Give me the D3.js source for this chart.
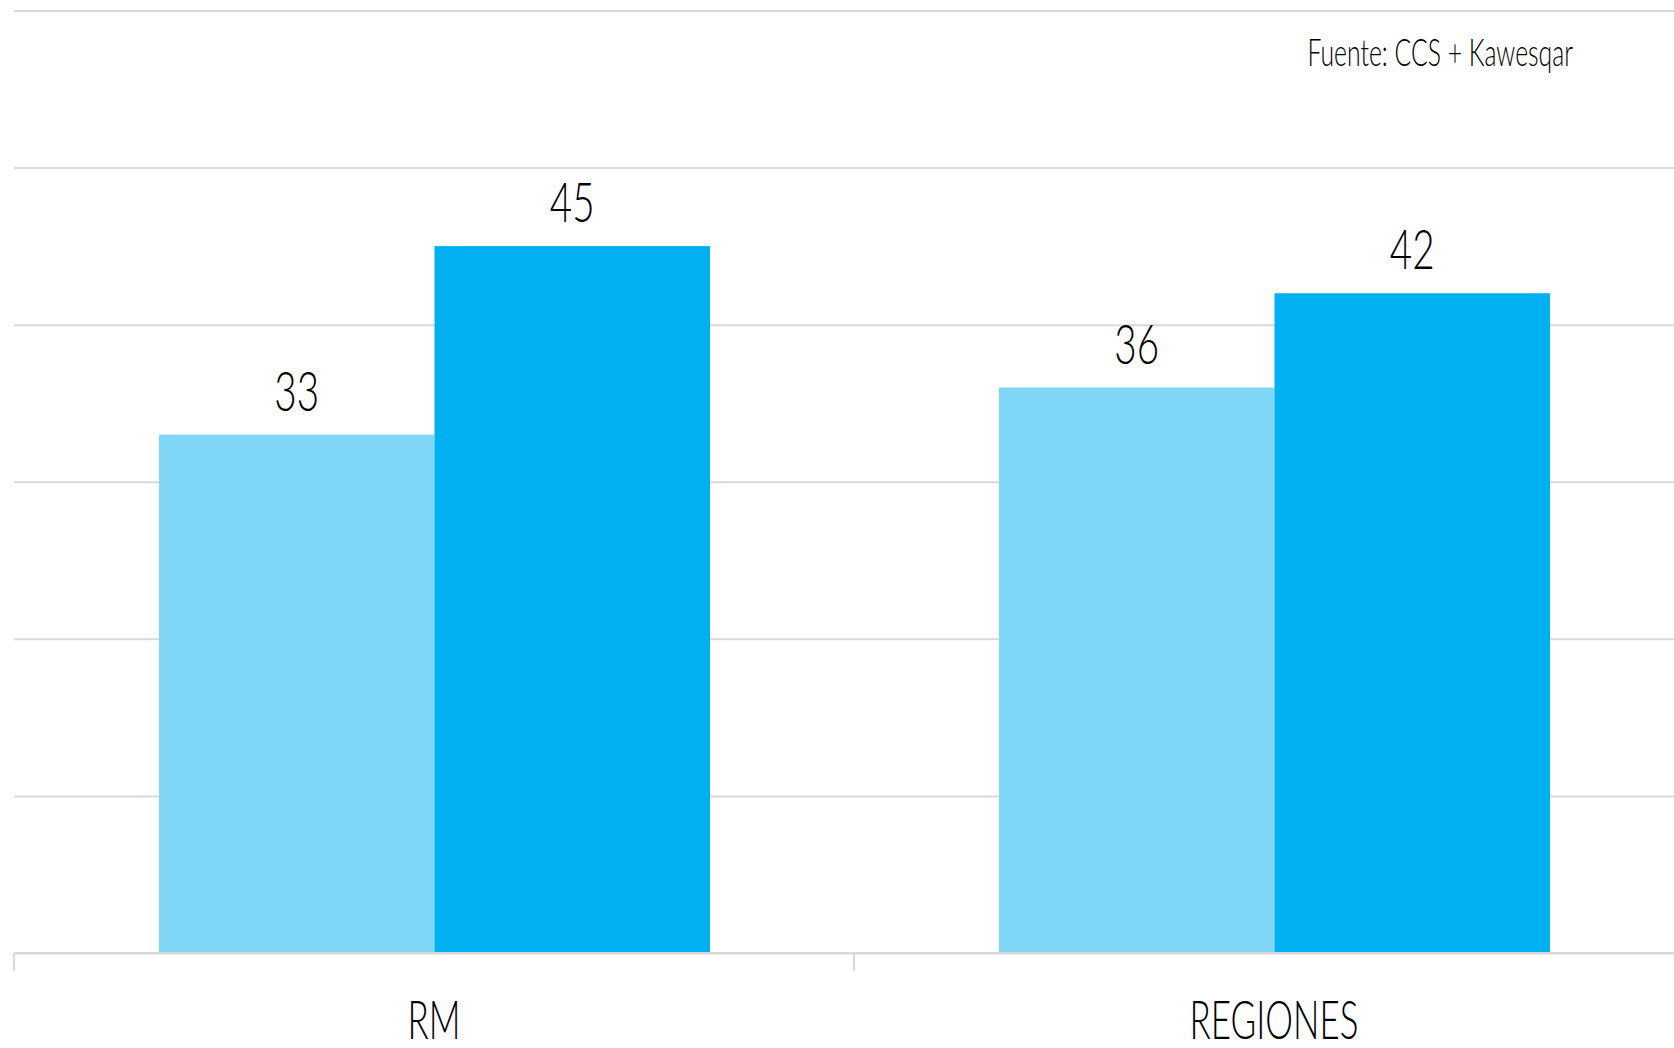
<!DOCTYPE html>
<html>
<head>
<meta charset="utf-8">
<script src="https://cdn.jsdelivr.net/npm/d3@7"></script>
<style>
  html, body { margin: 0; padding: 0; background: #ffffff; overflow: hidden; }
  svg { display: block; }
  text { font-family: "Lato", "DejaVu Sans Condensed", sans-serif; font-weight: 300; fill: #000; }
</style>
</head>
<body>
<script>
// ---- data ----
const categories = ["RM", "REGIONES"];
const seriesNames = ["Serie 1", "Serie 2"];
const serie1 = [33, 36];
const serie2 = [45, 42];
const yTicks = [0, 10, 20, 30, 40, 50, 60];
const sourceText = "Fuente: CCS + Kawesqar";

const W = 1674, H = 1048;
const svg = d3.select("body").append("svg").attr("width", W).attr("height", H);

const rows = categories.map((c, i) => ({ cat: c, values: [serie1[i], serie2[i]] }));

const x = d3.scaleBand().domain(categories).range([14, 1694]).paddingInner(0).paddingOuter(0);
const xSub = d3.scaleBand().domain(seriesNames).range([145, 696]).padding(0);
const y = d3.scaleLinear().domain([0, 60]).range([953, 10.5]);
const colors = d3.scaleOrdinal().domain(seriesNames).range(["#7fd6f7", "#00b0f0"]);

// gridlines
const grid = svg.append("g")
  .attr("transform", "translate(14,0)")
  .call(d3.axisLeft(y).tickValues(yTicks).tickSize(-(W - 14)).tickFormat(""));
grid.select(".domain").remove();
grid.selectAll(".tick line").attr("stroke", "#d9d9d9").attr("stroke-width", 2);

// bars
const groups = svg.append("g").selectAll("g")
  .data(rows).join("g")
  .attr("transform", d => `translate(${x(d.cat)},0)`);

groups.selectAll("rect")
  .data(d => d.values.map((v, j) => ({ s: seriesNames[j], v })))
  .join("rect")
  .attr("x", d => xSub(d.s))
  .attr("width", xSub.bandwidth())
  .attr("y", d => y(d.v))
  .attr("height", d => y(0) - y(d.v))
  .attr("fill", d => colors(d.s));

// value labels
groups.selectAll("text.val")
  .data(d => d.values.map((v, j) => ({ s: seriesNames[j], v })))
  .join("text")
  .attr("class", "val")
  .attr("text-anchor", "middle")
  .attr("font-size", 56)
  .attr("transform", d => `translate(${xSub(d.s) + xSub.bandwidth() / 2},${y(d.v) - 24}) scale(0.69,1)`)
  .text(d => d.v);

// x axis
const xAxis = svg.append("g")
  .attr("transform", `translate(0,${y(0)})`)
  .call(d3.axisBottom(x).tickSize(0).tickFormat(""));
xAxis.select(".domain").attr("d", `M14,0H${W}`).attr("stroke", "#d9d9d9").attr("stroke-width", 2);
xAxis.selectAll(".tick").remove();

// category boundary ticks
const edges = categories.map(c => x(c)).concat([x(categories[categories.length - 1]) + x.bandwidth()]);
svg.append("g").selectAll("line")
  .data(edges).join("line")
  .attr("x1", d => d).attr("x2", d => d)
  .attr("y1", y(0)).attr("y2", y(0) + 18)
  .attr("stroke", "#d9d9d9").attr("stroke-width", 2);

// category labels
svg.append("g").selectAll("text")
  .data(categories).join("text")
  .attr("text-anchor", "middle")
  .attr("font-size", 53)
  .attr("transform", d => `translate(${x(d) + x.bandwidth() / 2},1039) scale(0.66,1)`)
  .text(d => d);

// source
svg.append("text")
  .attr("text-anchor", "end")
  .attr("font-size", 37)
  .attr("transform", "translate(1573,66) scale(0.67,1)")
  .text(sourceText);
</script>
</body>
</html>
